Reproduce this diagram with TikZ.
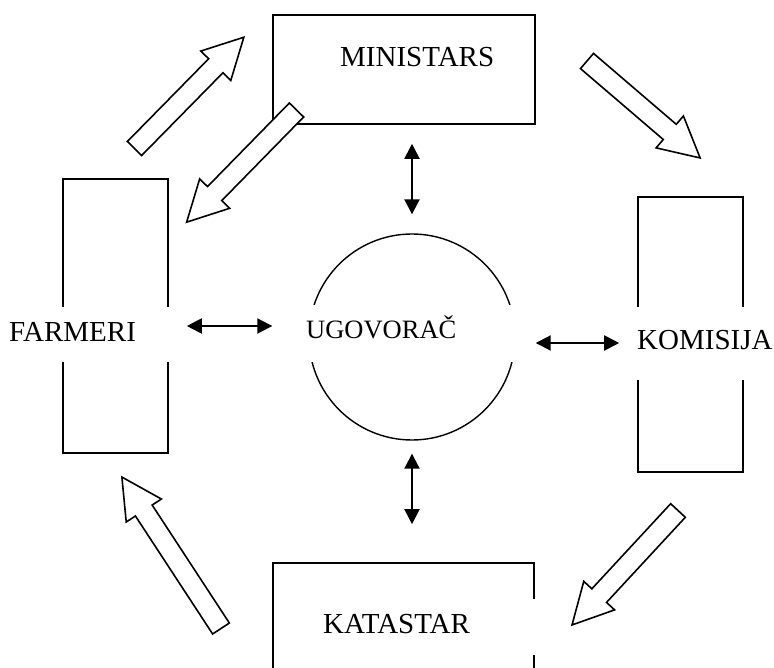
\documentclass[tikz,border=0pt]{standalone}
\usepackage{fontspec}
\setmainfont{Liberation Serif}
\usetikzlibrary{arrows.meta}

\tikzset{
  box/.style={draw, line width=1.6pt, inner sep=0pt},
  lbl/.style={anchor=base west, fill=white, inner xsep=4pt, inner ysep=0pt, align=left, font=\fontsize{29}{34}\selectfont},
  dbl/.style={{Triangle[width=15pt,length=15pt]}-{Triangle[width=15pt,length=15pt]}, line width=2pt},
  hollow/.style={draw, fill=white, line width=1.6pt, line join=miter}
}

\begin{document}
\begin{tikzpicture}[x=1pt, y=-1pt]
  \useasboundingbox (0,0) rectangle (774,668);
  \clip (0,0) rectangle (774,668);
  % Boxes and circle
  \node[box, minimum width=262pt, minimum height=109pt] (ministars) at (404,69.5) {};
  \node[box, minimum width=105pt, minimum height=274pt] (farmeri) at (115.5,316) {};
  \node[box, minimum width=105pt, minimum height=275pt] (komisija) at (690.5,334.5) {};
  \node[box, minimum width=261pt, minimum height=150pt] (katastar) at (403.5,638) {};
  \node[draw, circle, line width=1.4pt, minimum size=206pt, inner sep=0pt] (ugovorac) at (412,337) {};
  % Labels
  \node[anchor=base west, inner sep=0pt, font=\fontsize{29}{34}\selectfont] (ministarslbl) at (340,67) {MINISTARS};
  \node[lbl, text width=159pt, text height=35pt, text depth=20pt] (farmerilbl) at (5,342) {FARMERI};
  \node[lbl, text width=135pt, text height=43pt, text depth=30pt] (komisijalbl) at (633,350) {KOMISIJA};
  \node[lbl, text width=210pt, text height=33pt, text depth=24pt, font=\fontsize{26.5}{31}\selectfont] (ugovoraclbl) at (302,338) {UGOVORAČ};
  \node[lbl, text width=210pt, text height=34pt, text depth=22pt] (katastarlbl) at (319,633) {KATASTAR};
  % Double arrows
  \draw[dbl, shorten <=19pt, shorten >=19pt] (ugovorac.north |- ministars.south) -- (ugovorac.north);
  \draw[dbl, shorten <=13pt, shorten >=38pt] (ugovorac.south) -- (ugovorac.south |- katastar.north);
  \draw[dbl, shorten <=18pt, shorten >=36pt] ([yshift=-10pt]farmeri.east) -- ([yshift=-10pt]farmeri.east -| ugovorac.west);
  \draw[dbl, shorten <=20pt, shorten >=18pt] ([yshift=-6pt]ugovorac.east) -- ([yshift=-6pt]ugovorac.east -| komisija.west);
  % Hollow arrows
  \foreach \x/\y/\a/\l in {134.5/148.5/45.5/156, 296.5/110/-134.4/157, 587/61/-40.6/149, 678/510.5/-132.8/156, 221/628.5/123.2/181}
    \draw[hollow, shift={(\x,\y)}, rotate=\a] (0,-10) -- ({\l-40},-10) -- ({\l-40},-21) -- (\l,0) -- ({\l-40},21) -- ({\l-40},10) -- (0,10) -- cycle;
\end{tikzpicture}
\end{document}
